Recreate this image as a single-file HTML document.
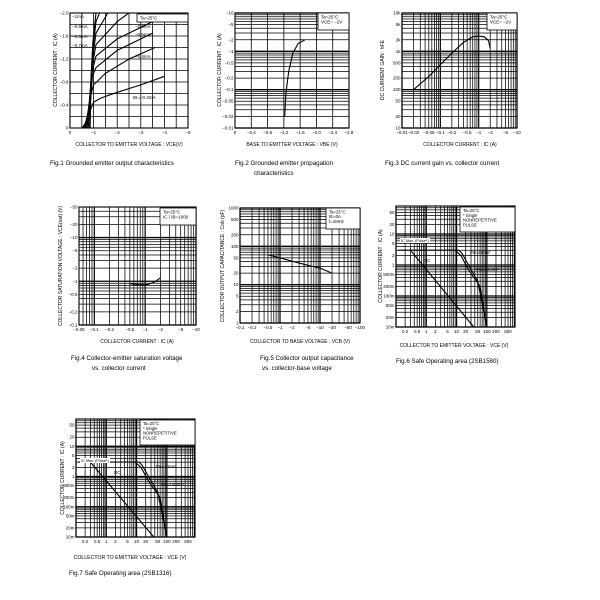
<!DOCTYPE html>
<html><head><meta charset="utf-8">
<style>
html,body{margin:0;padding:0;background:#fff;}
svg{display:block;font-family:"Liberation Sans",Arial,sans-serif;}
</style></head>
<body>
<svg id="s" width="600" height="600" viewBox="0 0 600 600" xmlns="http://www.w3.org/2000/svg"></svg>
<script>
var out=[];
function L(x1,y1,x2,y2,w){out.push('<line x1="'+x1.toFixed(2)+'" y1="'+y1.toFixed(2)+'" x2="'+x2.toFixed(2)+'" y2="'+y2.toFixed(2)+'" stroke="#000" stroke-width="'+(w||0.75)+'"/>');}
function T(x,y,s,fs,anchor,rot){out.push('<text x="'+x+'" y="'+y+'" font-size="'+fs+'" text-anchor="'+(anchor||'start')+'"'+(rot?' transform="rotate(-90 '+x+' '+y+')"':'')+'>'+s+'</text>');}
function P(pts,w){out.push('<polyline fill="none" stroke="#000" stroke-width="'+(w||1)+'" points="'+pts.map(function(p){return p[0].toFixed(1)+','+p[1].toFixed(1)}).join(' ')+'"/>');}
function Box(x,y,w,h,lines,fs){out.push('<rect x="'+x+'" y="'+y+'" width="'+w+'" height="'+h+'" fill="#fff" stroke="#000" stroke-width="0.8"/>');lines.forEach(function(s,i){T(x+3,y+fs+1+i*(fs+0.5),s,fs);});}
function mk(o){
 o.X=function(v){return o.xlog? o.x0+(Math.log10(v)-Math.log10(o.xmin))/(Math.log10(o.xmax)-Math.log10(o.xmin))*(o.x1-o.x0) : o.x0+(v-o.xmin)/(o.xmax-o.xmin)*(o.x1-o.x0);};
 o.Y=function(v){return o.ylog? o.y1-(Math.log10(v)-Math.log10(o.ymin))/(Math.log10(o.ymax)-Math.log10(o.ymin))*(o.y1-o.y0) : o.y1-(v-o.ymin)/(o.ymax-o.ymin)*(o.y1-o.y0);};
 return o;}
function logVals(a,b){var r=[];for(var d=-4;d<5;d++)for(var m=1;m<10;m++){var v=m*Math.pow(10,d);if(v>=a*0.999&&v<=b*1.001)r.push(v);}return r;}
function isDec(v){var l=Math.log10(v);return Math.abs(l-Math.round(l))<1e-6;}
function grid(o,xl,yl){
 if(o.xlog) logVals(o.xmin,o.xmax).forEach(function(v){var x=o.X(v);L(x,o.y0,x,o.y1,isDec(v)?1.2:0.75);});
 else xl.forEach(function(v){L(o.X(v),o.y0,o.X(v),o.y1,0.8);});
 if(o.ylog) logVals(o.ymin,o.ymax).forEach(function(v){var y=o.Y(v);L(o.x0,y,o.x1,y,isDec(v)?1.3:0.75);});
 else yl.forEach(function(v){L(o.x0,o.Y(v),o.x1,o.Y(v),0.8);});
 out.push('<rect x="'+o.x0+'" y="'+o.y0+'" width="'+(o.x1-o.x0)+'" height="'+(o.y1-o.y0)+'" fill="none" stroke="#000" stroke-width="1.1"/>');
}
function xt(o,vals,labs){vals.forEach(function(v,i){T(o.X(v),o.y1+6,labs[i],4.5,'middle');});}
function yt(o,vals,labs){vals.forEach(function(v,i){T(o.x0-1.5,o.Y(v)+1.5,labs[i],4.5,'end');});}

var f1=mk({x0:70,x1:188,y0:13,y1:128,xmin:0,xmax:5,ymin:0,ymax:2});
var a=[],b=[];for(var i=0;i<=10;i++){a.push(i*0.5);b.push(i*0.2);}
grid(f1,a,b);
xt(f1,[0,1,2,3,4,5],['0','−1','−2','−3','−4','−5']);
yt(f1,[0,0.4,0.8,1.2,1.6,2],['0','−0.4','−0.8','−1.2','−1.6','−2.0']);
var D1=function(pts){P(pts.map(function(p){return [f1.X(p[0]),f1.Y(p[1])]}),1.1);};
D1([[0.5,0],[0.7,0.1],[0.85,0.3],[1,0.45],[1.3,0.52],[2,0.62],[3,0.75],[4,0.9]]);
D1([[0.55,0],[0.8,0.2],[0.9,0.6],[1,0.75],[1.5,0.95],[2.5,1.2],[3.6,1.4]]);
D1([[0.6,0],[0.85,0.4],[0.95,0.9],[1.1,1.05],[2,1.35],[3.5,1.65]]);
D1([[0.65,0],[0.85,0.5],[0.95,1.0],[1.1,1.25],[2,1.55],[3.5,1.85]]);
D1([[0.7,0],[0.85,0.6],[0.95,1.1],[1.1,1.45],[2,1.85],[2.5,2]]);
D1([[0.75,0],[0.87,0.7],[0.95,1.2],[1.1,1.65],[1.6,2]]);
D1([[0.8,0],[0.88,0.8],[0.95,1.3],[1.1,1.85],[1.25,2]]);
D1([[0.85,0],[0.9,0.9],[0.97,1.5],[1.1,2]]);
Box(137,14,51,8,['Ta=25°C'],4.5);
T(72,18,'−1mA',4.5);T(72,28,'−0.9mA',4.5);T(72,38,'−0.8mA',4.5);T(72,47,'−0.7mA',4.5);
T(135,28,'−0.6mA',4.5);T(135,36,'−0.5mA',4.5);T(135,58,'−0.4mA',4.5);T(133,99,'IB=−0.3mA',4.5);
T(129,146,'COLLECTOR  TO  EMITTER  VOLTAGE : VCE(V)',5,'middle');
T(57,70,'COLLECTOR  CURRENT : IC (A)',5,'middle',1);
T(50,165,'Fig.1  Grounded emitter output characteristics',6.2);

var f2=mk({x0:235,x1:349,y0:13,y1:128,xmin:0,xmax:2.8,ymin:0.01,ymax:10,ylog:1});
grid(f2,[0,0.4,0.8,1.2,1.6,2.0,2.4,2.8],[]);
xt(f2,[0,0.4,0.8,1.2,1.6,2.0,2.4,2.8],['0','−0.4','−0.8','−1.2','−1.6','−2.0','−2.4','−2.8']);
yt(f2,[0.01,0.02,0.05,0.1,0.2,0.5,1,2,5,10],['−0.01','−0.02','−0.05','−0.1','−0.2','−0.5','−1','−2','−5','−10']);
P([[f2.X(1.22),f2.Y(0.02)],[f2.X(1.25),f2.Y(0.08)],[f2.X(1.32),f2.Y(0.3)],[f2.X(1.42),f2.Y(0.9)],[f2.X(1.55),f2.Y(1.6)],[f2.X(1.72),f2.Y(2)]],1.1);
Box(318,13,31,17,['Ta=25°C','VCE= −2V'],4.5);
T(292,146,'BASE TO EMITTER VOLTAGE : VBE (V)',5,'middle');
T(221,70,'COLLECTOR CURRENT : IC (A)',5,'middle',1);
T(235,165,'Fig.2  Grounded emitter propagation',6.2);T(254,175,'characteristics',6.2);

var f3=mk({x0:402,x1:517,y0:13,y1:128,xmin:0.01,xmax:10,ymin:10,ymax:10000,xlog:1,ylog:1});
grid(f3);
xt(f3,[0.01,0.02,0.05,0.1,0.2,0.5,1,2,5,10],['−0.01','−0.02','−0.05','−0.1','−0.2','−0.5','−1','−2','−5','−10']);
yt(f3,[10,20,50,100,200,500,1000,2000,5000,10000],['10','20','50','100','200','500','1k','2k','5k','10k']);
P([[0.02,100],[0.05,220],[0.1,450],[0.2,900],[0.4,1700],[0.7,2400],[1,2500],[1.4,2400],[1.8,1900],[2,1200]].map(function(p){return [f3.X(p[0]),f3.Y(p[1])]}),1.1);
Box(487,13,30,17,['Ta=25°C','VCE= −2V'],4.5);
T(460,146,'COLLECTOR CURRENT : IC (A)',5,'middle');
T(384,70,'DC CURRENT GAIN : hFE',5,'middle',1);
T(385,165,'Fig.3  DC current gain vs. collector current',6.2);

var f4=mk({x0:79,x1:196,y0:207,y1:325,xmin:0.05,xmax:10,ymin:0.1,ymax:50,xlog:1,ylog:1});
grid(f4);
xt(f4,[0.05,0.1,0.2,0.5,1,2,5,10],['−0.05','−0.1','−0.2','−0.5','−1','−2','−5','−10']);
yt(f4,[0.1,0.2,0.5,1,2,5,10,20,50],['−0.1','−0.2','−0.5','−1','−2','−5','−10','−20','−50']);
P([[0.5,0.88],[0.8,0.83],[1.1,0.84],[1.5,0.95],[2,1.2]].map(function(p){return [f4.X(p[0]),f4.Y(p[1])]}),1.1);
Box(160,208,36,17,['Ta=25°C','IC / IB=1000'],4.5);
T(137,343,'COLLECTOR CURRENT : IC (A)',5,'middle');
T(62,266,'COLLECTOR SATURATION VOLTAGE : VCE(sat) (V)',5,'middle',1);
T(71,360,'Fig.4  Collector-emitter saturation voltage',6.2);T(92,370,'vs. collector current',6.2);

var f5=mk({x0:240,x1:360,y0:208,y1:323,xmin:0.1,xmax:100,ymin:1,ymax:1000,xlog:1,ylog:1});
grid(f5);
xt(f5,[0.1,0.2,0.5,1,2,5,10,20,50,100],['−0.1','−0.2','−0.5','−1','−2','−5','−10','−20','−50','−100']);
yt(f5,[1,2,5,10,20,50,100,200,500,1000],['1','2','5','10','20','50','100','200','500','1000']);
P([[0.5,60],[1,50],[2,41],[5,32],[10,27],[20,20]].map(function(p){return [f5.X(p[0]),f5.Y(p[1])]}),1.1);
Box(326,208,34,21,['Ta=25°C','IE=0A','f=1MHz'],4.3);
T(300,343,'COLLECTOR TO BASE VOLTAGE : VCB (V)',5,'middle');
T(224,266,'COLLECTOR OUTPUT CAPACITANCE : Cob (pF)',5,'middle',1);
T(260,360,'Fig.5  Collector output capacitance',6.2);T(262,370,'vs. collector-base voltage',6.2);

function soa(o){
 grid(o);
 xt(o,[0.2,0.5,1,2,5,10,20,50,100,200,500],['0.2','0.5','1','2','5','10','20','50','100','200','500']);
 yt(o,[0.01,0.02,0.05,0.1,0.2,0.5,1,2,5,10,20,50],['10m','20m','50m','100m','200m','500m','1','2','5','10','20','50']);
}
function D6(o,pts){P(pts.map(function(p){return [o.X(p[0]),o.Y(p[1])]}),1.1);}
var f6=mk({x0:396,x1:515,y0:206,y1:327,xmin:0.1,xmax:850,ymin:0.01,ymax:80,xlog:1,ylog:1});
soa(f6);
D6(f6,[[0.12,3],[12,3]]);
D6(f6,[[0.3,3],[37,0.01]]);
D6(f6,[[12,3],[15,2.4],[50,0.3],[100,0.01]]);
D6(f6,[[9,3],[14,2],[25,0.7],[60,0.2],[100,0.01]]);
Box(460,207,55,25,['Ta=25°C','* Single','  NONREPETITIVE','  PULSE'],4.2);
out.push('<rect x="400" y="238" width="30" height="5" fill="#fff"/>');T(401,242,'IC Max. (Pulse*)',3.8);
T(424,262,'DC',4.5);T(470,254,'Pw=10ms*',4.3);T(476,271,'Pw=100ms*',4.3);
T(454,347,'COLLECTOR TO EMITTER VOLTAGE : VCE (V)',5,'middle');
T(382,266,'COLLECTOR CURRENT : IC (A)',5,'middle',1);
T(396,363,'Fig.6  Safe Operating area (2SB1580)',6.2);

var f7=mk({x0:76,x1:195,y0:419,y1:537,xmin:0.1,xmax:850,ymin:0.01,ymax:80,xlog:1,ylog:1});
soa(f7);
D6(f7,[[0.12,3],[12,3]]);
D6(f7,[[0.3,3],[37,0.01]]);
D6(f7,[[12,3],[15,2.4],[50,0.3],[100,0.01]]);
D6(f7,[[9,3],[14,2],[25,0.7],[60,0.2],[100,0.01]]);
Box(140,420,55,25,['Ta=25°C','* Single','  NONREPETITIVE','  PULSE'],4.2);
out.push('<rect x="80" y="458" width="30" height="5" fill="#fff"/>');T(81,462,'IC Max. (Pulse*)',3.8);
T(114,474,'DC',4.5);T(156,468,'Pw=10ms*',4.3);T(161,486,'Pw=100ms*',4.3);
T(130,559,'COLLECTOR TO EMITTER VOLTAGE : VCE (V)',5.2,'middle');
T(64,478,'COLLECTOR CURRENT : IC (A)',5,'middle',1);
T(69,575,'Fig.7  Safe Operating area (2SB1316)',6.2);

document.getElementById('s').innerHTML=out.join('');
</script>
</body></html>
